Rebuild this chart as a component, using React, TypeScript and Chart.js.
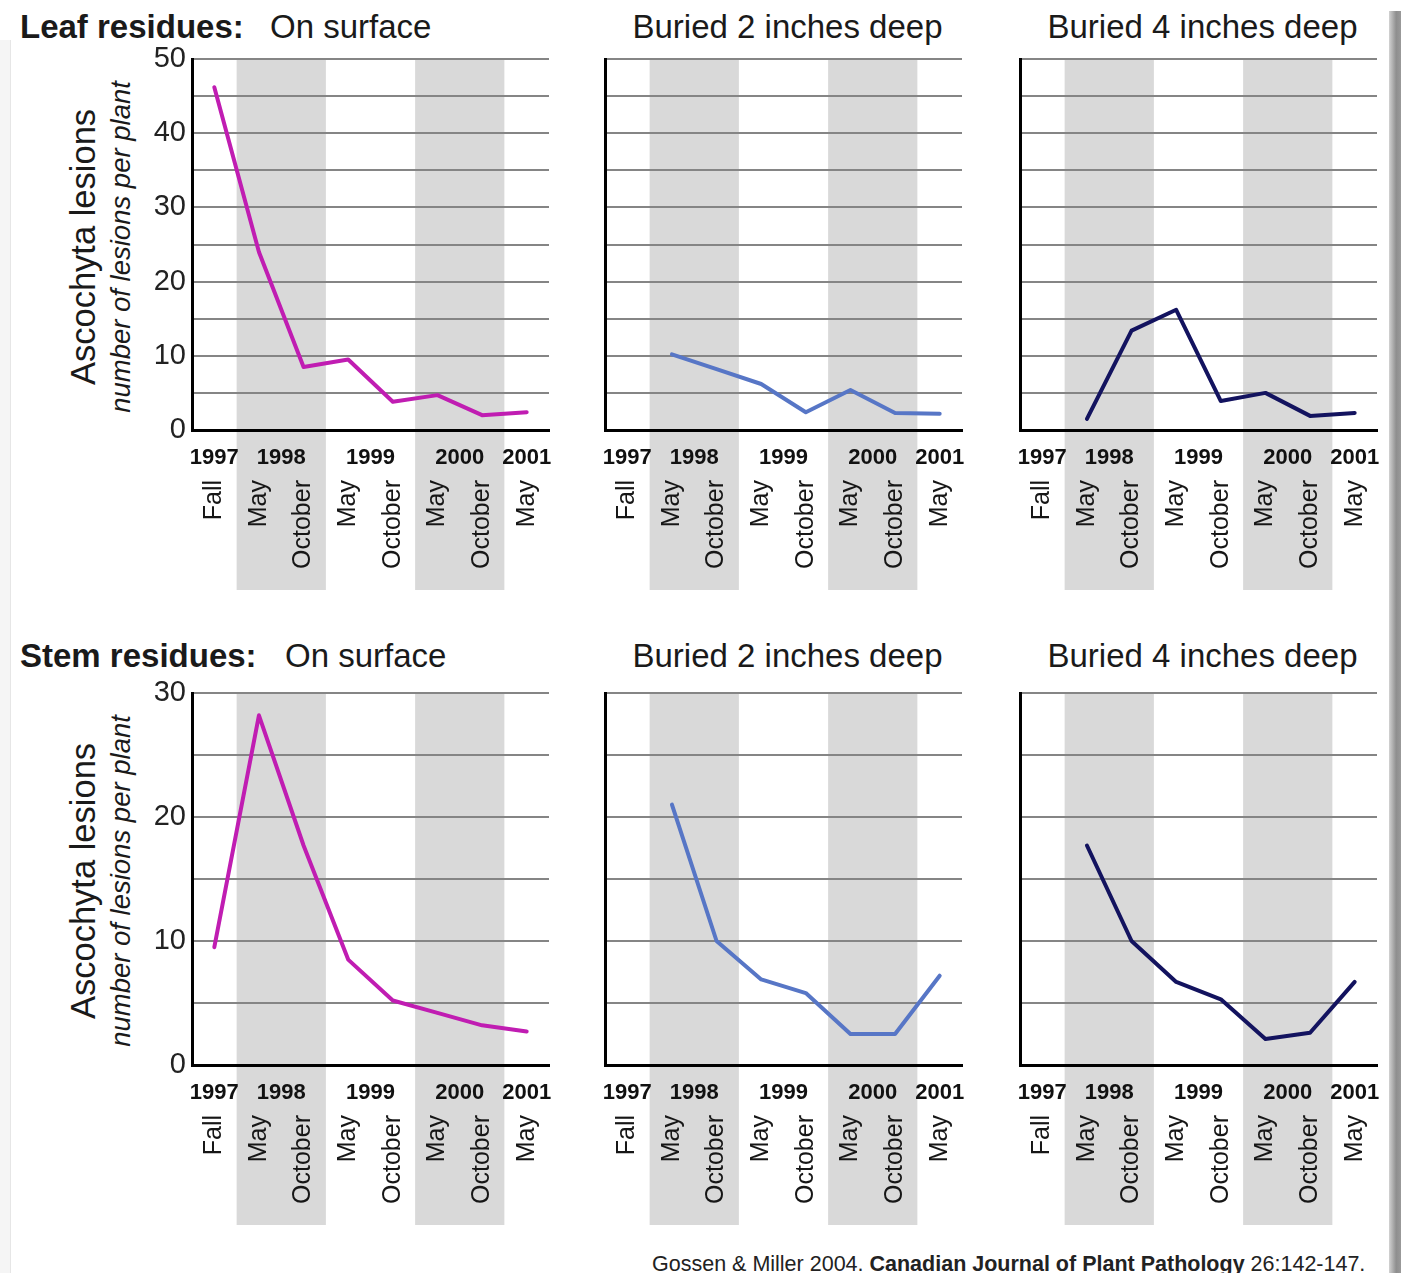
import React, { useEffect, useRef } from 'react';
import { Chart, registerables } from 'chart.js';

Chart.register(...registerables);

// ---------- data ----------
const monthLabels = ['Fall', 'May', 'October', 'May', 'October', 'May', 'October', 'May'];
const yearLabels = ['1997', '1998', '1999', '2000', '2001'];
// category index at which each year label is centred
const yearSlots = [0, 1.5, 3.5, 5.5, 7];
// shaded (grey) category spans: [first, last]
const shadedSpans = [
  [1, 2],
  [5, 6],
];

const leafSurface = [46.2, 24.0, 8.5, 9.5, 3.8, 4.7, 2.0, 2.4];
const leafBuried2 = [null, 10.2, 8.2, 6.2, 2.4, 5.4, 2.3, 2.2];
const leafBuried4 = [null, 1.5, 13.4, 16.2, 3.9, 5.0, 1.9, 2.3];
const stemSurface = [9.5, 28.2, 17.7, 8.5, 5.2, 4.2, 3.2, 2.7];
const stemBuried2 = [null, 21.0, 10.0, 6.9, 5.8, 2.5, 2.5, 7.2];
const stemBuried4 = [null, 17.7, 10.0, 6.7, 5.3, 2.1, 2.6, 6.7];

const leafMax = 50;
const stemMax = 30;
const gridStep = 5;
const labelStep = 10;

const rowTitles = ['Leaf residues:', 'Stem residues:'];
const panelTitles = ['On surface', 'Buried 2 inches deep', 'Buried 4 inches deep'];
const yTitle = 'Ascochyta lesions';
const ySubTitle = 'number of lesions per plant';

const colMagenta = '#c01db2';
const colBlue = '#5776c6';
const colNavy = '#13135f';

// ---------- layout ----------
const FONT = '"Liberation Sans", Arial, Helvetica, sans-serif';
const PLOT_W = 357;
const AXIS_W = 62;
const PAD_TOP = 22;
const PAD_RIGHT = 16;
const BAND_DEPTH = 160;
const LABEL_DEPTH = 164;
const axisXs = [192, 605, 1020];
const rows = [
  { plotTop: 59, zeroY: 430, titleY: 26 },
  { plotTop: 693, zeroY: 1065, titleY: 655 },
];

type PanelProps = {
  values: (number | null)[];
  color: string;
  yMax: number;
  showYLabels: boolean;
  axisX: number;
  plotTop: number;
  zeroY: number;
};

function Panel({ values, color, yMax, showYLabels, axisX, plotTop, zeroY }: PanelProps) {
  const ref = useRef<HTMLCanvasElement>(null);
  const width = AXIS_W + PLOT_W + PAD_RIGHT;
  const height = PAD_TOP + (zeroY - plotTop) + LABEL_DEPTH;

  useEffect(() => {
    if (!ref.current) return;
    const bands = {
      id: 'bands',
      beforeDraw(chart: any) {
        const x = chart.scales.x;
        const area = chart.chartArea;
        const ctx = chart.ctx;
        const step = x.getPixelForValue(1) - x.getPixelForValue(0);
        ctx.save();
        ctx.fillStyle = '#d9d9d9';
        shadedSpans.forEach(([a, b]) => {
          const x0 = x.getPixelForValue(a) - step / 2;
          const x1 = x.getPixelForValue(b) + step / 2;
          ctx.fillRect(x0, area.top, x1 - x0, area.bottom + BAND_DEPTH - area.top);
        });
        ctx.restore();
      },
    };
    const years = {
      id: 'years',
      afterDraw(chart: any) {
        const x = chart.scales.x;
        const ctx = chart.ctx;
        const p0 = x.getPixelForValue(0);
        const step = x.getPixelForValue(1) - p0;
        ctx.save();
        ctx.font = `bold 22px ${FONT}`;
        ctx.fillStyle = '#111';
        ctx.textAlign = 'center';
        ctx.textBaseline = 'middle';
        yearLabels.forEach((t, i) => {
          ctx.fillText(t, p0 + step * yearSlots[i], chart.chartArea.bottom + 28);
        });
        ctx.restore();
      },
    };

    const chart = new Chart(ref.current, {
      type: 'line',
      data: {
        labels: monthLabels,
        datasets: [
          {
            data: values as any,
            borderColor: color,
            backgroundColor: color,
            borderWidth: 4,
            pointRadius: 0,
            tension: 0,
            spanGaps: false,
            borderJoinStyle: 'round',
            borderCapStyle: 'round',
          },
        ],
      },
      options: {
        animation: false,
        responsive: false,
        maintainAspectRatio: false,
        events: [],
        layout: { padding: { top: PAD_TOP, right: PAD_RIGHT, left: 0, bottom: 0 } },
        plugins: { legend: { display: false }, tooltip: { enabled: false } },
        scales: {
          x: {
            type: 'category',
            offset: true,
            grid: { display: false, drawTicks: false },
            border: { display: true, color: '#000', width: 3 },
            ticks: {
              autoSkip: false,
              minRotation: 90,
              maxRotation: 90,
              padding: 50,
              color: '#161616',
              font: { family: FONT, size: 25 },
            },
            afterFit: (s: any) => {
              s.height = LABEL_DEPTH;
              s.paddingLeft = 0;
              s.paddingRight = 0;
            },
          },
          y: {
            min: 0,
            max: yMax,
            grid: { color: '#858585', lineWidth: 2, drawTicks: false },
            border: { display: true, color: '#000', width: 3 },
            ticks: {
              stepSize: gridStep,
              autoSkip: false,
              padding: 6,
              color: '#222',
              font: { family: FONT, size: 29 },
              callback: (v: any) => (showYLabels && Number(v) % labelStep === 0 ? String(v) : ''),
            },
            afterFit: (s: any) => {
              s.width = AXIS_W;
              s.paddingTop = 0;
              s.paddingBottom = 0;
            },
          },
        },
      } as any,
      plugins: [bands, years],
    });
    return () => chart.destroy();
  }, []);

  return (
    <canvas
      ref={ref}
      width={width}
      height={height}
      style={{
        position: 'absolute',
        left: axisX - AXIS_W,
        top: plotTop - PAD_TOP,
        width,
        height,
      }}
    />
  );
}

const panelRows = [
  { series: [leafSurface, leafBuried2, leafBuried4], yMax: leafMax },
  { series: [stemSurface, stemBuried2, stemBuried4], yMax: stemMax },
];
const panelColors = [colMagenta, colBlue, colNavy];

const textBase: React.CSSProperties = {
  position: 'absolute',
  fontFamily: FONT,
  color: '#1a1a1a',
  whiteSpace: 'nowrap',
  lineHeight: 1,
};

export default function App() {
  useEffect(() => {
    document.body.style.margin = '0';
  }, []);

  return (
    <div
      style={{
        position: 'absolute',
        left: 0,
        top: 0,
        width: 1401,
        height: 1273,
        background: '#fff',
        overflow: 'hidden',
      }}
    >
      {/* page edges */}
      <div
        style={{
          position: 'absolute',
          left: 0,
          top: 40,
          width: 10,
          height: 1233,
          background: '#f5f5f5',
          borderRight: '1px solid #e6e6e6',
        }}
      />
      <div
        style={{
          position: 'absolute',
          left: 1389,
          top: 11,
          width: 12,
          height: 1262,
          background: 'linear-gradient(to right, #d2d2d2, #8e8e8e 60%, #9a9a9a)',
        }}
      />

      {panelRows.map((row, r) => (
        <React.Fragment key={r}>
          {/* row titles */}
          <div style={{ ...textBase, left: 20, top: rows[r].titleY - 16, fontSize: 33, fontWeight: 'bold' }}>
            {rowTitles[r]}
          </div>
          <div style={{ ...textBase, left: r === 0 ? 270 : 285, top: rows[r].titleY - 16, fontSize: 33 }}>
            {panelTitles[0]}
          </div>
          {[1, 2].map((c) => (
            <div
              key={c}
              style={{
                ...textBase,
                left: axisXs[c] + PLOT_W / 2 + 4,
                top: rows[r].titleY - 16,
                fontSize: 33,
                transform: 'translateX(-50%)',
              }}
            >
              {panelTitles[c]}
            </div>
          ))}
          {/* y-axis titles */}
          <div
            style={{
              ...textBase,
              left: 83,
              top: (rows[r].plotTop + rows[r].zeroY) / 2 + 2,
              fontSize: 34.5,
              transform: 'translate(-50%, -50%) rotate(-90deg)',
            }}
          >
            {yTitle}
          </div>
          <div
            style={{
              ...textBase,
              left: 121,
              top: (rows[r].plotTop + rows[r].zeroY) / 2 + 2,
              fontSize: 27.5,
              fontStyle: 'italic',
              transform: 'translate(-50%, -50%) rotate(-90deg)',
            }}
          >
            {ySubTitle}
          </div>
          {row.series.map((vals, c) => (
            <Panel
              key={c}
              values={vals}
              color={panelColors[c]}
              yMax={row.yMax}
              showYLabels={c === 0}
              axisX={axisXs[c]}
              plotTop={rows[r].plotTop}
              zeroY={rows[r].zeroY}
            />
          ))}
        </React.Fragment>
      ))}

      <div style={{ ...textBase, left: 652, top: 1254, fontSize: 21.5, color: '#222' }}>
        Gossen &amp; Miller 2004. <b>Canadian Journal of Plant Pathology</b> 26:142-147.
      </div>
    </div>
  );
}
